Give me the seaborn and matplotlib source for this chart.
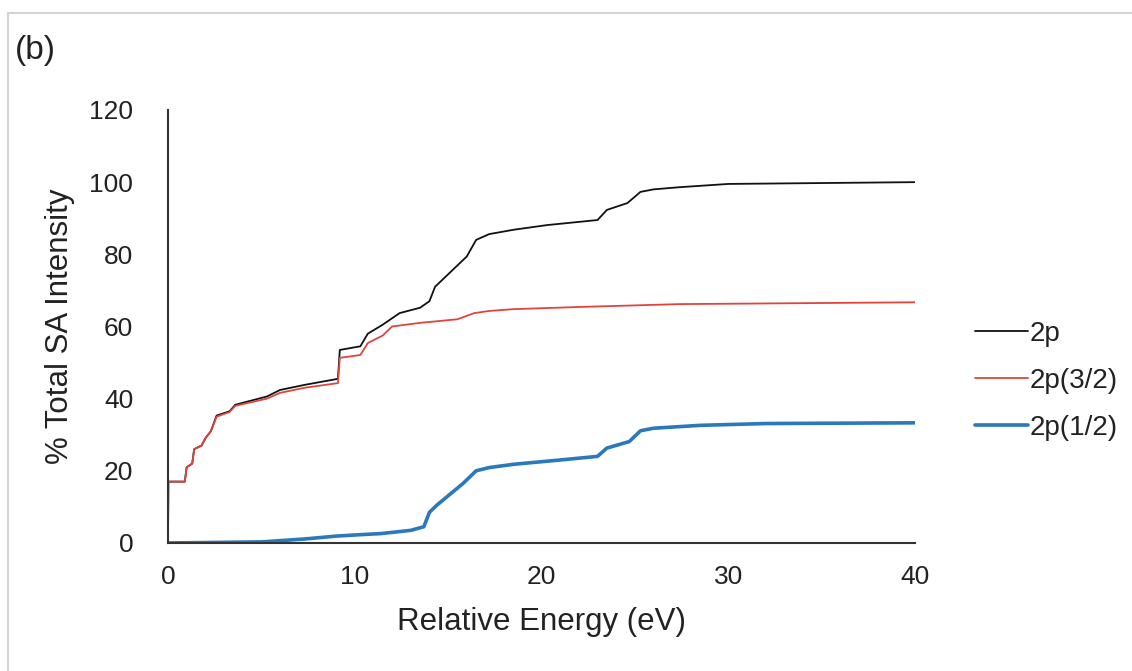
import numpy as np
import pandas as pd
import matplotlib
matplotlib.use('Agg')
import matplotlib.pyplot as plt
from matplotlib.lines import Line2D
import seaborn as sns

## values
x_2p = [0, 0.02, 0.9, 1.0, 1.3, 1.4, 1.8, 2.0, 2.3, 2.6, 3.3, 3.6, 5.3, 6.0, 7.3, 9.1, 9.2,
        10.3, 10.7, 11.5, 12.4, 13.5, 14.0, 14.3, 16.0, 16.5, 17.2, 18.5, 20.3, 23.0, 23.5,
        24.6, 25.3, 26.0, 27.4, 30, 40]
y_2p = [0, 17, 17, 21, 22, 26, 27, 29, 31, 35.3, 36.5, 38.3, 40.6, 42.4, 43.8, 45.5, 53.5,
        54.5, 58, 60.5, 63.7, 65.2, 67, 71, 79.4, 84, 85.6, 86.8, 88.1, 89.5, 92.3,
        94.2, 97.3, 98.0, 98.6, 99.5, 100]

x_32 = [0, 0.02, 0.9, 1.0, 1.3, 1.4, 1.8, 2.0, 2.3, 2.6, 3.3, 3.6, 5.3, 6.0, 7.3, 9.1, 9.2,
        10.3, 10.7, 11.5, 12.0, 13.5, 15.5, 16.4, 17.2, 18.5, 22, 27.4, 40]
y_32 = [0, 17, 17, 21, 22, 26, 27, 29, 31, 35, 36.3, 38, 40, 41.6, 43, 44.3, 51.3,
        52.1, 55.4, 57.5, 60, 61, 62, 63.7, 64.3, 64.8, 65.4, 66.2, 66.7]

x_12 = [0, 5, 7.3, 9, 10.3, 11.4, 13.0, 13.7, 14.0, 14.4, 15.8, 16.5, 17.2, 18.5, 21, 23.0,
        23.5, 24.7, 25.3, 26.0, 28.5, 32, 40]
y_12 = [0, 0.3, 1.1, 1.9, 2.3, 2.6, 3.5, 4.5, 8.5, 10.5, 16.5, 20, 20.9, 21.8, 23, 24,
        26.3, 28.1, 31.1, 31.8, 32.6, 33.1, 33.3]

series = [('2p', x_2p, y_2p, '#111111', 1.3),
          ('2p(3/2)', x_32, y_32, '#e0443c', 1.3),
          ('2p(1/2)', x_12, y_12, '#2a78bd', 2.6)]

sns.set_theme(style='white')
plt.rcParams['font.family'] = ['Liberation Sans', 'DejaVu Sans']

fig = plt.figure(figsize=(11.32, 6.71), dpi=100)
ax = fig.add_axes([0.1484, 0.1908, 0.6599, 0.6453])

for name, xs, ys, col, lw in series:
    df = pd.DataFrame({'x': xs, 'y': ys})
    sns.lineplot(data=df, x='x', y='y', ax=ax, color=col, linewidth=lw, label=name,
                 estimator=None, sort=False)

ax.set_xlim(0, 40)
ax.set_ylim(0, 120)
ax.set_xticks([0, 10, 20, 30, 40])
ax.set_yticks(np.arange(0, 121, 20))
ax.tick_params(axis='y', length=0, pad=25, labelsize=19, colors='#222222')
ax.tick_params(axis='x', length=0, pad=16, labelsize=19, colors='#222222')
for s in ['top', 'right']:
    ax.spines[s].set_visible(False)
for s in ['left', 'bottom']:
    ax.spines[s].set_color('#333333')
    ax.spines[s].set_linewidth(1.5)

ax.set_xlabel('Relative Energy (eV)', fontsize=22.5, color='#222222', labelpad=13)
ax.set_ylabel('% Total SA Intensity', fontsize=22.5, color='#222222', labelpad=10)

ax.legend(loc='center left', bbox_to_anchor=(975 / 1132, 1 - 381 / 671),
          bbox_transform=fig.transFigure, frameon=False, fontsize=20,
          handlelength=1.9, handletextpad=0.08, labelspacing=0.75,
          borderpad=0, borderaxespad=0, labelcolor='#222222')

fig.text(15 / 1132, 1 - 50 / 671, '(b)', fontsize=24, color='#222222', va='center')

## gray frame on top and left like the screenshot
fig.add_artist(Line2D([8 / 1132, 1], [1 - 13 / 671, 1 - 13 / 671], color='#d4d4d4', lw=1.5))
fig.add_artist(Line2D([8 / 1132, 8 / 1132], [0, 1 - 13 / 671], color='#d4d4d4', lw=1.5))

fig.savefig('out.png', dpi=100)
